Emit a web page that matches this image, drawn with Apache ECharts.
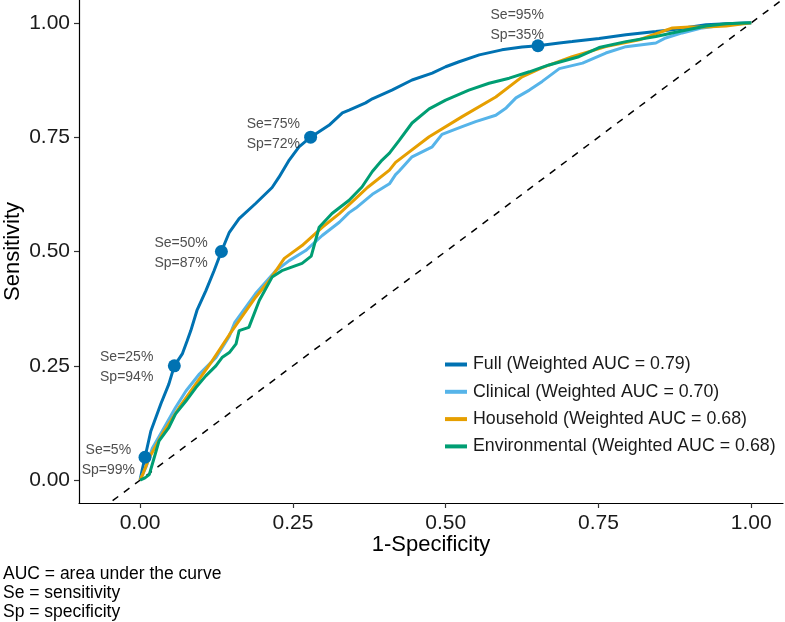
<!DOCTYPE html>
<html>
<head>
<meta charset="utf-8">
<script src="https://cdn.jsdelivr.net/npm/echarts@6/dist/echarts.min.js"></script>
<style>
html,body{margin:0;padding:0;background:#fff;}
#chart{width:785px;height:622px;}
</style>
</head>
<body>
<div id="chart"></div>
<script>
// ---- data ----
const seriesNames = [
  'Full (Weighted AUC = 0.79)',
  'Clinical (Weighted AUC = 0.70)',
  'Household (Weighted AUC = 0.68)',
  'Environmental (Weighted AUC = 0.68)'
];
const seriesColors = ['#0072B2', '#56B4E9', '#E69F00', '#009E73'];

const fullX = [0, 0.003, 0.008, 0.0175, 0.034, 0.047, 0.056, 0.069, 0.077, 0.083, 0.093, 0.1075, 0.121, 0.133, 0.146, 0.162, 0.189, 0.216, 0.227, 0.244, 0.260, 0.279, 0.309, 0.331, 0.342, 0.369, 0.380, 0.412, 0.445, 0.478, 0.500, 0.522, 0.555, 0.592, 0.625, 0.651, 0.686, 0.707, 0.751, 0.795, 0.844, 0.871, 0.926, 0.959, 1];
const fullY = [0, 0.020, 0.050, 0.107, 0.167, 0.210, 0.250, 0.276, 0.305, 0.327, 0.371, 0.414, 0.458, 0.500, 0.542, 0.572, 0.605, 0.640, 0.662, 0.700, 0.729, 0.750, 0.776, 0.803, 0.809, 0.825, 0.834, 0.853, 0.875, 0.890, 0.904, 0.915, 0.930, 0.941, 0.947, 0.950, 0.956, 0.959, 0.966, 0.974, 0.981, 0.985, 0.996, 0.998, 1];

const clinX = [0, 0.010, 0.020, 0.036, 0.058, 0.075, 0.097, 0.124, 0.146, 0.155, 0.189, 0.222, 0.244, 0.271, 0.298, 0.326, 0.342, 0.353, 0.380, 0.408, 0.418, 0.424, 0.445, 0.478, 0.494, 0.527, 0.549, 0.582, 0.599, 0.615, 0.637, 0.658, 0.686, 0.724, 0.762, 0.795, 0.844, 0.860, 0.887, 0.920, 0.959, 1];
const clinY = [0, 0.030, 0.070, 0.107, 0.159, 0.195, 0.232, 0.268, 0.315, 0.345, 0.408, 0.458, 0.480, 0.502, 0.535, 0.564, 0.585, 0.595, 0.625, 0.648, 0.668, 0.676, 0.707, 0.729, 0.756, 0.773, 0.784, 0.798, 0.814, 0.836, 0.853, 0.872, 0.900, 0.912, 0.934, 0.948, 0.956, 0.967, 0.978, 0.989, 0.996, 1];

const houseX = [0, 0.005, 0.015, 0.036, 0.064, 0.091, 0.118, 0.146, 0.189, 0.211, 0.236, 0.265, 0.298, 0.326, 0.353, 0.372, 0.408, 0.418, 0.473, 0.527, 0.582, 0.625, 0.658, 0.707, 0.762, 0.817, 0.871, 0.899, 0.926, 0.959, 1];
const houseY = [0, 0.015, 0.049, 0.100, 0.159, 0.210, 0.261, 0.318, 0.400, 0.436, 0.485, 0.513, 0.553, 0.583, 0.616, 0.640, 0.678, 0.695, 0.751, 0.795, 0.838, 0.882, 0.902, 0.926, 0.948, 0.963, 0.989, 0.991, 0.991, 0.993, 1];

const envX = [0, 0.008, 0.015, 0.023, 0.031, 0.047, 0.058, 0.075, 0.091, 0.1075, 0.124, 0.134, 0.146, 0.157, 0.162, 0.178, 0.195, 0.216, 0.232, 0.265, 0.280, 0.293, 0.314, 0.342, 0.363, 0.380, 0.396, 0.408, 0.424, 0.445, 0.473, 0.500, 0.538, 0.571, 0.604, 0.637, 0.669, 0.718, 0.751, 0.795, 0.844, 0.882, 0.926, 0.959, 1];
const envY = [0, 0.005, 0.012, 0.049, 0.086, 0.115, 0.145, 0.173, 0.202, 0.228, 0.250, 0.268, 0.279, 0.298, 0.327, 0.334, 0.393, 0.444, 0.458, 0.474, 0.490, 0.553, 0.583, 0.612, 0.641, 0.675, 0.700, 0.715, 0.743, 0.781, 0.812, 0.831, 0.853, 0.868, 0.879, 0.893, 0.908, 0.926, 0.946, 0.959, 0.970, 0.981, 0.993, 0.998, 1];

// operating points on the Full curve
const cutX = [0.008, 0.056, 0.133, 0.279, 0.651];
const cutY = [0.05, 0.25, 0.50, 0.75, 0.95];
const seText = ['5%', '25%', '50%', '75%', '95%'];
const spText = ['99%', '94%', '87%', '72%', '35%'];
const labelX = [-0.052, -0.022, 0.067, 0.218, 0.617];
const labelY = [0.044, 0.247, 0.497, 0.757, 0.996];

const refLine = [[-0.1, -0.1], [1.1, 1.1]];
const tickValues = [0, 0.25, 0.5, 0.75, 1];
const footnotes = ['AUC = area under the curve', 'Se = sensitivity', 'Sp = specificity'];

// ---- build ----
const zip = (xs, ys) => xs.map((x, i) => [x, ys[i]]);
const curves = [zip(fullX, fullY), zip(clinX, clinY), zip(houseX, houseY), zip(envX, envY)];
const FONT = '"Liberation Sans", Arial, sans-serif';

const chart = echarts.init(document.getElementById('chart'), null, {renderer: 'canvas'});

const axisCommon = {
  type: 'value',
  axisLine: {show: true, onZero: false, lineStyle: {color: '#000', width: 1.2}},
  axisTick: {show: true, customValues: tickValues, length: 5, lineStyle: {color: '#333', width: 1.2}},
  axisLabel: {customValues: tickValues, color: '#1a1a1a', fontSize: 21, fontFamily: FONT,
              formatter: v => v.toFixed(2)},
  splitLine: {show: false},
  nameLocation: 'middle',
  nameMoveOverlap: false,
  nameTextStyle: {color: '#000', fontSize: 22, fontFamily: FONT}
};

const series = curves.map((d, i) => ({
  name: seriesNames[i],
  type: 'line',
  data: d,
  showSymbol: false,
  symbol: 'none',
  lineStyle: {color: seriesColors[i], width: 3},
  itemStyle: {color: seriesColors[i]},
  z: 3 + i,
  clip: true,
  animation: false
}));

series.unshift({
  type: 'line',
  data: refLine,
  showSymbol: false,
  symbol: 'none',
  lineStyle: {color: '#000', width: 1.5, type: [7, 7]},
  z: 2,
  clip: true,
  silent: true,
  animation: false
});

series.push({
  type: 'scatter',
  data: zip(cutX, cutY),
  symbolSize: 13,
  itemStyle: {color: '#0072B2', opacity: 1},
  z: 10,
  animation: false
});

series.push({
  type: 'scatter',
  data: labelX.map((x, i) => [x, labelY[i], i]),
  symbolSize: 0,
  label: {
    show: true,
    position: 'inside',
    color: '#222',
    fontSize: 14,
    lineHeight: 20,
    fontFamily: FONT,
    align: 'center',
    formatter: p => 'Se=' + seText[p.value[2]] + '\nSp=' + spText[p.value[2]]
  },
  z: 11,
  silent: true,
  animation: false
});

chart.setOption({
  animation: false,
  backgroundColor: '#fff',
  grid: {left: 79, right: 2, top: 0, bottom: 119, containLabel: false, outerBoundsMode: 'none'},
  xAxis: Object.assign({}, axisCommon, {
    min: -0.1, max: 1.052, name: '1-Specificity', nameGap: 31,
    axisLabel: Object.assign({}, axisCommon.axisLabel, {margin: 10})
  }),
  yAxis: Object.assign({}, axisCommon, {
    min: -0.05, max: 1.05, name: 'Sensitivity', nameGap: 55,
    axisLabel: Object.assign({}, axisCommon.axisLabel, {margin: 9})
  }),
  legend: {
    show: true,
    orient: 'vertical',
    left: 440,
    top: 349,
    icon: 'rect',
    itemWidth: 22,
    itemHeight: 4,
    itemGap: 6.3,
    data: seriesNames,
    textStyle: {color: '#1a1a1a', fontSize: 17.8, fontFamily: FONT, lineHeight: 21, padding: [0, 0, 0, 1]}
  },
  graphic: footnotes.map((t, i) => ({
    type: 'text',
    left: 3,
    top: 565 + i * 19,
    style: {text: t, fill: '#000', font: '17.5px ' + FONT}
  })),
  series: series
});
</script>
</body>
</html>
